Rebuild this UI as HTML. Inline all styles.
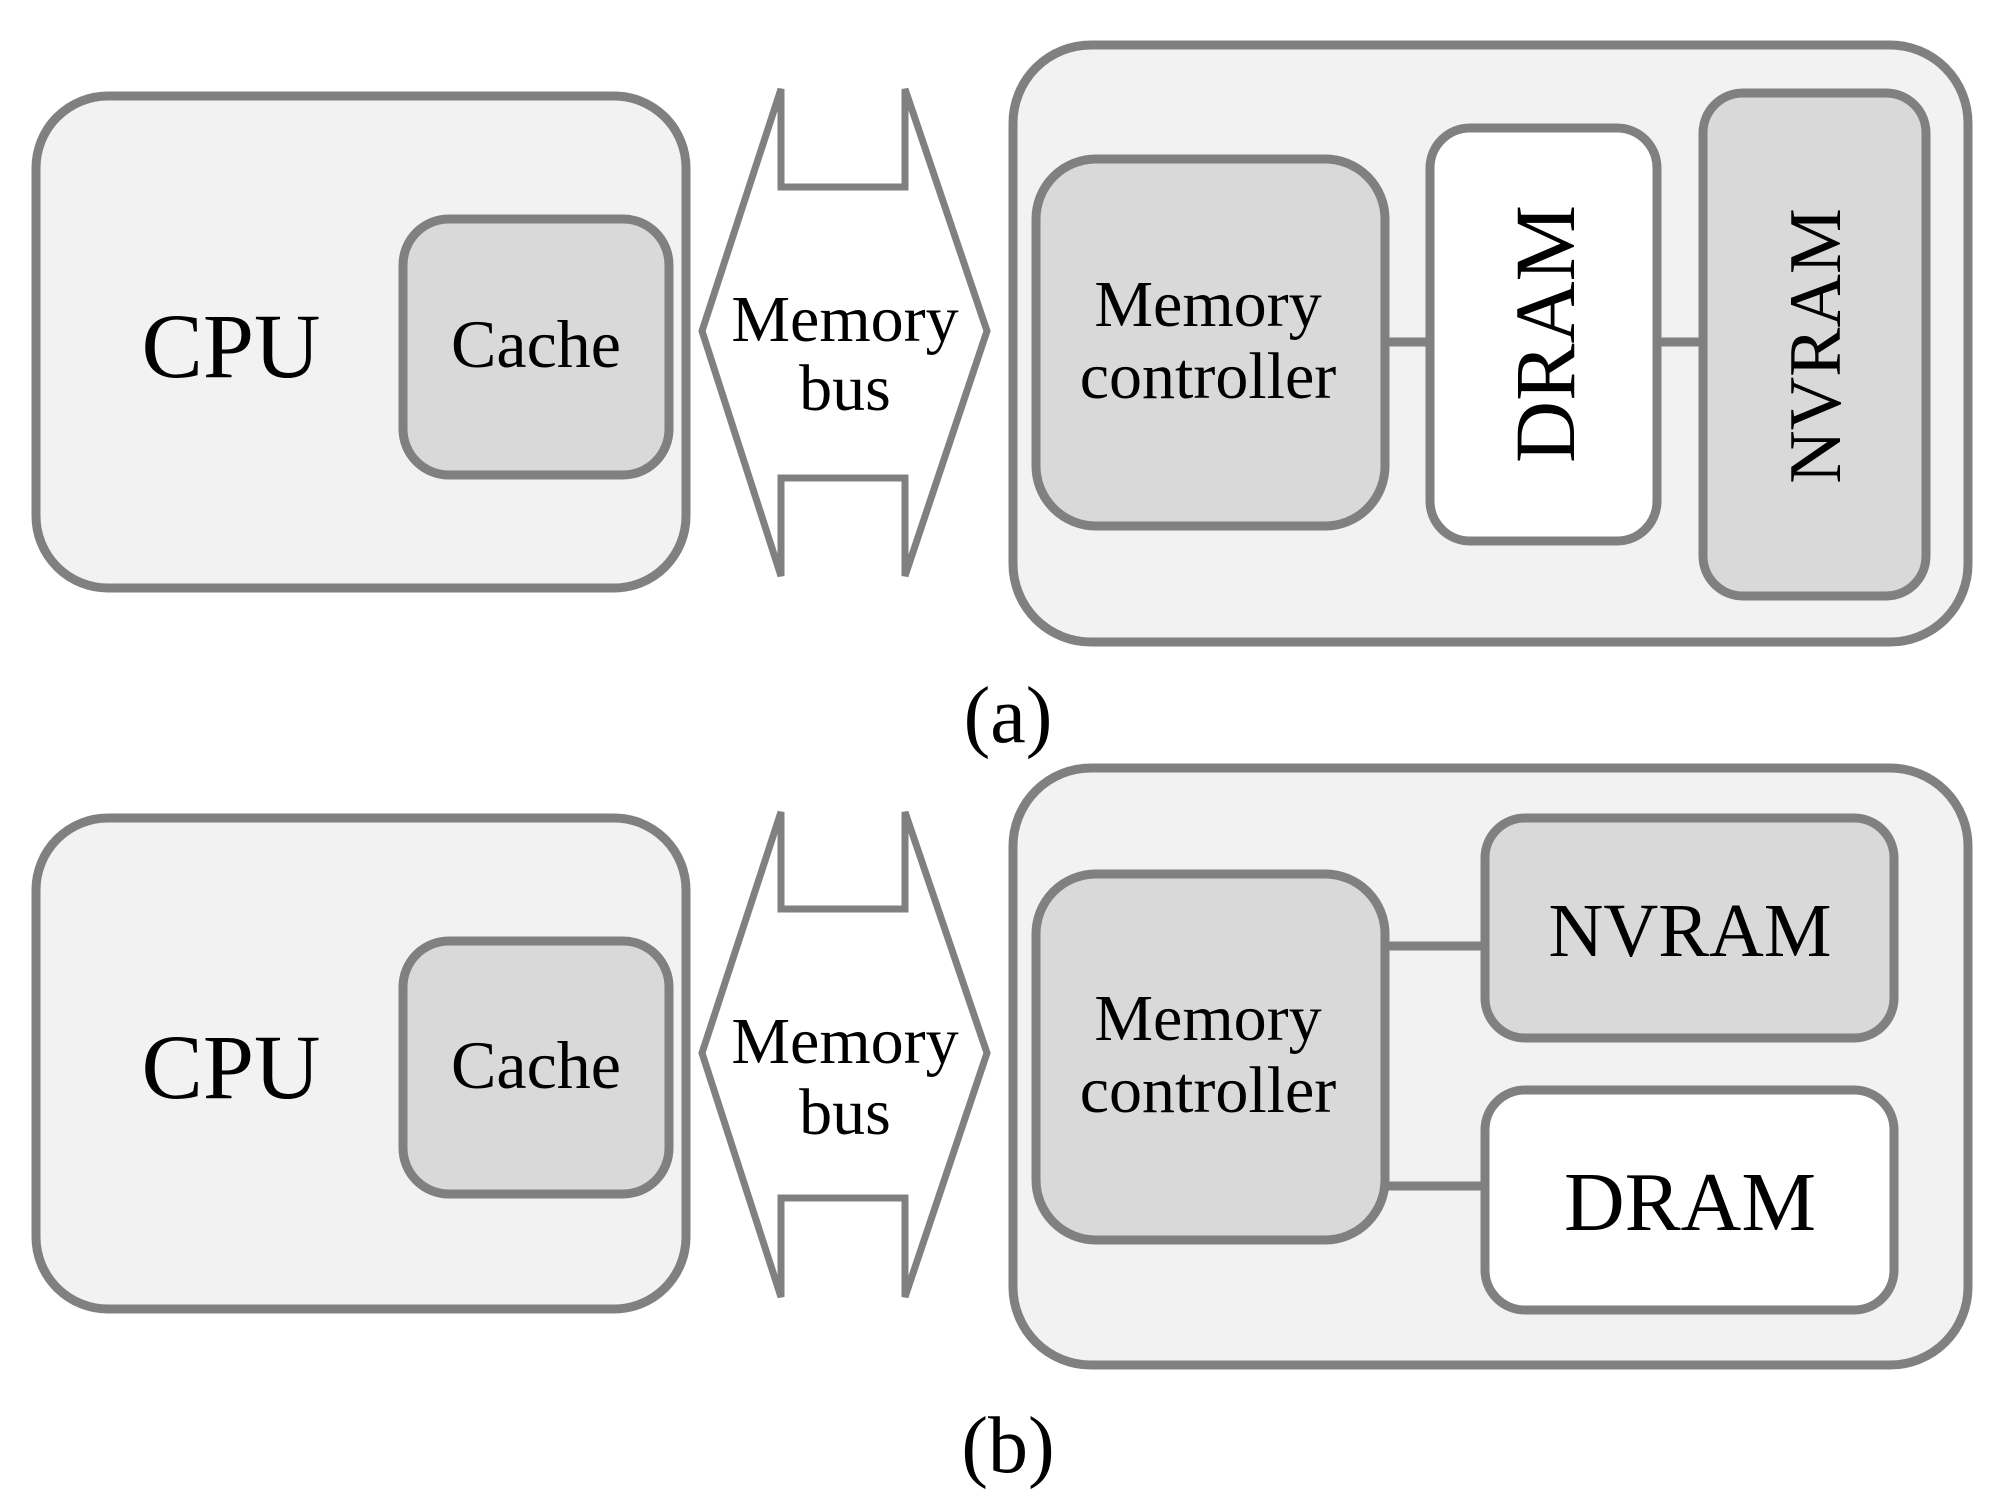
<!DOCTYPE html>
<html><head><style>html,body{margin:0;padding:0;background:#fff}svg{display:block}</style></head>
<body>
<svg width="2013" height="1505" viewBox="0 0 2013 1505" xmlns="http://www.w3.org/2000/svg" font-family="Liberation Serif, serif">
<g stroke="#808080" stroke-width="9">
<!-- (a) -->
<rect x="36" y="96" width="650" height="492" rx="72" fill="#f2f2f2"/>
<rect x="403" y="219" width="266" height="256" rx="46" fill="#d9d9d9"/>
<polygon points="781,89 781,187 905,187 905,89 987,331 905,576 905,478 781,478 781,576 702,331" fill="#fff" stroke-width="7"/>
<rect x="1013" y="45" width="955" height="597" rx="78" fill="#f2f2f2"/>
<line x1="1385" y1="342" x2="1430" y2="342"/>
<line x1="1657" y1="342" x2="1703" y2="342"/>
<rect x="1036" y="159" width="349" height="367" rx="60" fill="#d9d9d9"/>
<rect x="1430" y="128" width="227" height="413" rx="40" fill="#fff"/>
<rect x="1703" y="93" width="223" height="503" rx="40" fill="#d9d9d9"/>
<!-- (b) -->
<rect x="36" y="818" width="650" height="491" rx="72" fill="#f2f2f2"/>
<rect x="403" y="941" width="266" height="253" rx="46" fill="#d9d9d9"/>
<polygon points="781,812 781,909 905,909 905,812 987,1053 905,1297 905,1198 781,1198 781,1297 702,1053" fill="#fff" stroke-width="7"/>
<rect x="1013" y="768" width="955" height="597" rx="78" fill="#f2f2f2"/>
<line x1="1385" y1="946" x2="1485" y2="946"/>
<line x1="1385" y1="1186" x2="1485" y2="1186"/>
<rect x="1036" y="874" width="349" height="366" rx="60" fill="#d9d9d9"/>
<rect x="1485" y="818" width="409" height="220" rx="40" fill="#d9d9d9"/>
<rect x="1485" y="1090" width="409" height="220" rx="40" fill="#fff"/>
</g>
<g fill="#000" text-anchor="middle">
<text x="231" y="377" font-size="92">CPU</text>
<text x="536" y="367" font-size="68">Cache</text>
<text x="845" y="341" font-size="66">Memory</text>
<text x="845" y="410" font-size="66">bus</text>
<text x="1208" y="326" font-size="66">Memory</text>
<text x="1208" y="398" font-size="66">controller</text>
<text transform="translate(1574,334) rotate(-90)" x="0" y="0" font-size="86">DRAM</text>
<text transform="translate(1840,346) rotate(-90)" x="0" y="0" font-size="74">NVRAM</text>
<text x="1008" y="742" font-size="80">(a)</text>

<text x="231" y="1098" font-size="92">CPU</text>
<text x="536" y="1088" font-size="68">Cache</text>
<text x="845" y="1063" font-size="66">Memory</text>
<text x="845" y="1134" font-size="66">bus</text>
<text x="1208" y="1040" font-size="66">Memory</text>
<text x="1208" y="1112" font-size="66">controller</text>
<text x="1690" y="956" font-size="76">NVRAM</text>
<text x="1690" y="1230" font-size="84">DRAM</text>
<text x="1008" y="1472" font-size="80">(b)</text>
</g>
</svg>
</body></html>
